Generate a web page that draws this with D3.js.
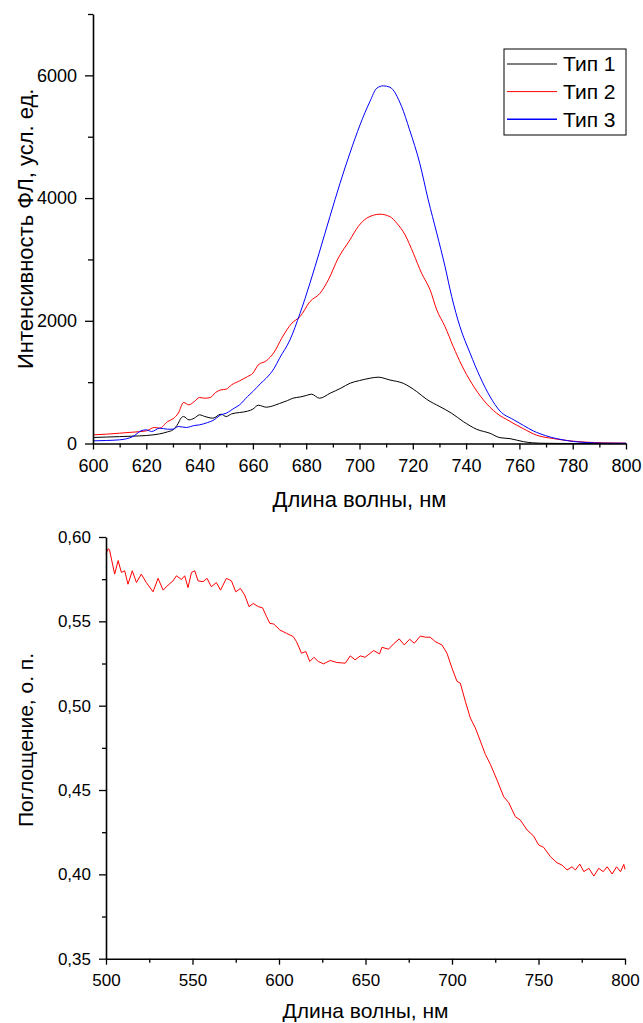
<!DOCTYPE html>
<html>
<head>
<meta charset="utf-8">
<script src="https://cdnjs.cloudflare.com/ajax/libs/d3/7.8.5/d3.min.js"></script>
<style>
  body { margin: 0; background: #fff; }
  svg { font-family: "Liberation Sans", Arial, sans-serif; }
</style>
</head>
<body>
<svg id="fig" width="643" height="1023"></svg>
<script>
// ---- data ----
const seriesNames = ["Тип 1", "Тип 2", "Тип 3"];
const seriesColors = ["#000000", "#ff0000", "#0000ff"];

// [wavelength nm, intensity]
const type1 = [[600,98],[605,105],[610,112],[615,120],[620,130],[625,157],[628,190],[630,223],[632,330],[633,413],[634,440],[636,385],[638,413],[640,467],[642,440],[645,413],[648,478],[650,440],[652,483],[655,505],[658,527],[660,560],[662,624],[665,592],[668,620],[670,652],[673,700],[675,738],[678,760],[680,782],[682,804],[685,738],[689,820],[693,901],[696.5,983],[700,1026],[704,1064],[707,1081],[711.4,1035],[716.4,981],[721.5,845],[725.2,720],[730.2,600],[734.6,492],[739,356],[744,231],[749,166],[752.7,95],[756.5,79],[761.5,30],[765,11],[770,3],[780,0],[800,0]];

const type2 = [[600,141],[605,152],[610,168],[615,185],[620,206],[623,261],[625,250],[628,358],[630,402],[632,494],[634,668],[636,630],[638,684],[640,749],[642,738],[644,749],[646,831],[648,874],[650,885],[652,956],[655,1021],[658,1091],[660,1146],[662,1281],[665,1347],[668,1490],[670.8,1715],[674.6,1960],[677.7,2068],[681.4,2312],[685.2,2449],[688.3,2666],[692,3020],[696.4,3318],[699.5,3535],[702.7,3672],[707.7,3737],[711.4,3698],[714,3590],[717.1,3400],[720.2,3101],[723.3,2775],[726.5,2503],[729,2177],[732.1,1904],[735.2,1578],[738.3,1280],[742.1,982],[746.5,709],[751.5,492],[756.5,360],[761.5,240],[766.5,135],[772.75,80],[779,43],[785,22],[791.5,11],[800,5]];

const type3 = [[600,43],[605,49],[610,60],[615,114],[618,206],[620,223],[622,195],[625,250],[628,233],[630,233],[632,277],[635,261],[638,293],[640,304],[643,342],[645,375],[648,467],[650,494],[653,576],[655,630],[658,766],[660,847],[663,983],[665,1064],[668,1227],[670,1390],[673.9,1688],[677.7,2123],[681.4,2612],[685.2,3155],[688.9,3698],[692.7,4242],[696.4,4732],[700.2,5193],[703.9,5573],[706.5,5791],[708.9,5829],[711.4,5807],[715.8,5492],[718.8,5112],[722.6,4569],[725.8,3970],[729,3427],[732.1,2883],[734.6,2394],[737.7,1904],[741.5,1471],[745.2,1089],[749,763],[752.7,530],[757.7,390],[761.5,295],[765.2,205],[767.7,160],[772,100],[776,62],[780.25,33],[785.25,16],[791.5,5],[800,5]];

// [wavelength nm, absorbance]
const absorb = [[500,0.590],[501.2,0.593],[502,0.5925],[505,0.578],[507,0.586],[508.9,0.579],[510.8,0.580],[512.7,0.572],[515.2,0.580],[517.6,0.573],[520.4,0.578],[523.3,0.573],[527.2,0.5675],[530.1,0.5755],[533,0.5685],[535.9,0.5715],[538.8,0.574],[540.7,0.577],[543.6,0.5748],[545.5,0.577],[547.4,0.570],[549.4,0.579],[551.3,0.580],[553.2,0.574],[556.1,0.5735],[558.4,0.5755],[560.9,0.5705],[563.8,0.573],[566.2,0.5685],[569.6,0.5755],[572.5,0.574],[575,0.5675],[577.7,0.5695],[580.2,0.5655],[582.7,0.5587],[585.1,0.5606],[588,0.5587],[590.5,0.558],[592.8,0.5528],[594.7,0.5488],[597,0.5484],[600.5,0.5449],[604.3,0.5429],[608.2,0.541],[610.1,0.538],[613,0.5311],[615.5,0.5321],[617.8,0.5262],[620.2,0.5287],[622.7,0.5262],[625.7,0.5248],[629.6,0.5268],[633.4,0.5256],[638.3,0.5252],[641.2,0.5295],[644,0.5272],[647,0.5295],[649.8,0.5287],[654.7,0.5327],[658.1,0.5307],[659.5,0.5346],[663.3,0.5335],[666.2,0.5366],[669.5,0.5396],[672.4,0.536],[675.5,0.5394],[678.2,0.537],[681.7,0.5413],[684.6,0.5406],[687.4,0.5406],[690.3,0.538],[694.2,0.536],[697.1,0.5311],[700,0.5222],[702.9,0.5144],[704.8,0.5134],[707.7,0.5026],[710.6,0.4927],[713.5,0.4868],[716.4,0.479],[719.3,0.4711],[722.2,0.4652],[726,0.456],[729.9,0.446],[732.8,0.4425],[736.6,0.4342],[739.5,0.4322],[743.4,0.4263],[747.2,0.4227],[750.1,0.4174],[753,0.416],[756.9,0.4105],[760.7,0.4069],[763.6,0.4055],[766.5,0.4026],[769.4,0.4045],[771.3,0.4026],[773.9,0.4061],[776.2,0.4016],[779.1,0.4036],[782,0.399],[784.8,0.4036],[787.4,0.4016],[789.7,0.4045],[792.6,0.4002],[795.1,0.4045],[797.4,0.4016],[799.3,0.4059],[800,0.403]];

// ticks
const flXMajor = d3.range(600, 801, 20);
const flXMinor = d3.range(610, 800, 20);
const flYMajor = [0, 2000, 4000, 6000];
const flYMinor = [1000, 3000, 5000, 7000];
const abXMajor = d3.range(500, 801, 50);
const abXMinor = d3.range(525, 800, 50);
const abYMajor = [0.35, 0.40, 0.45, 0.50, 0.55, 0.60];
const abYMinor = [0.375, 0.425, 0.475, 0.525, 0.575];

const svg = d3.select("#fig");

// helper to draw an axis with major + minor ticks
function drawAxis(g, axisFn, scale, major, minor, majSize, minSize, pad, fmt, fontSize) {
    g.append("g")
        .call(axisFn(scale).tickValues(minor).tickSize(minSize).tickFormat(""))
        .call(a => a.select(".domain").remove())
        .selectAll("line").attr("stroke", "#000").attr("stroke-width", 1.3);
    const ax = g.append("g")
        .call(axisFn(scale).tickValues(major).tickSize(majSize).tickSizeOuter(0)
              .tickPadding(pad).tickFormat(fmt));
    ax.select(".domain").attr("stroke", "#000").attr("stroke-width", 1.6);
    ax.selectAll("line").attr("stroke", "#000").attr("stroke-width", 1.3);
    ax.selectAll("text").attr("fill", "#000").style("font-size", fontSize + "px")
        .style("font-family", '"Liberation Sans", Arial, sans-serif');
}

// ===== top chart: fluorescence =====
const x1 = d3.scaleLinear().domain([600, 800]).range([93, 626]);
const y1 = d3.scaleLinear().domain([0, 7000]).range([443.5, 14]);

const topG = svg.append("g");
const line1 = d3.line().x(d => x1(d[0])).y(d => y1(d[1])).curve(d3.curveMonotoneX);

[type1, type2, type3].forEach((s, i) => {
    topG.append("path")
        .datum(s)
        .attr("d", line1)
        .attr("fill", "none")
        .attr("stroke", seriesColors[i])
        .attr("stroke-width", 1);
});

drawAxis(topG.append("g").attr("transform", `translate(0,${y1(0)})`),
    d3.axisBottom, x1, flXMajor, flXMinor, 6, 4, 10, d3.format("d"), 18);
drawAxis(topG.append("g").attr("transform", `translate(${x1(600)},0)`),
    d3.axisLeft, y1, flYMajor, flYMinor, 8, 5, 8, d3.format("d"), 18);

topG.append("text")
    .attr("x", (x1(600) + x1(800)) / 2)
    .attr("y", 507)
    .attr("text-anchor", "middle")
    .style("font-size", "22px")
    .text("Длина волны, нм");

topG.append("text")
    .attr("transform", `translate(33,${(y1(0) + y1(7000)) / 2}) rotate(-90)`)
    .attr("text-anchor", "middle")
    .style("font-size", "22px")
    .text("Интенсивность ФЛ, усл. ед.");

// legend
const legend = topG.append("g").attr("transform", "translate(504,49)");
legend.append("rect")
    .attr("width", 122).attr("height", 86)
    .attr("fill", "#fff").attr("stroke", "#000").attr("stroke-width", 1);
const items = legend.selectAll(".item")
    .data(seriesNames)
    .join("g")
    .attr("transform", (d, i) => `translate(0,${15 + i * 27.6})`);
items.append("line")
    .attr("x1", 3).attr("x2", 53)
    .attr("stroke", (d, i) => seriesColors[i])
    .attr("stroke-width", (d, i) => i === 2 ? 1.6 : 1);
items.append("text")
    .attr("x", 59).attr("dy", "0.35em")
    .style("font-size", "21px")
    .text(d => d);

// ===== bottom chart: absorbance =====
const x2 = d3.scaleLinear().domain([500, 800]).range([106, 625]);
const y2 = d3.scaleLinear().domain([0.35, 0.60]).range([958.7, 537]);

const botG = svg.append("g");
botG.append("path")
    .datum(absorb)
    .attr("d", d3.line().x(d => x2(d[0])).y(d => y2(d[1])))
    .attr("fill", "none")
    .attr("stroke", "#ff0000")
    .attr("stroke-width", 1);

const comma = v => d3.format(".2f")(v).replace(".", ",");
drawAxis(botG.append("g").attr("transform", `translate(0,${y2(0.35)})`),
    d3.axisBottom, x2, abXMajor, abXMinor, 6, 4, 9, d3.format("d"), 17);
drawAxis(botG.append("g").attr("transform", `translate(${x2(500)},0)`),
    d3.axisLeft, y2, abYMajor, abYMinor, 7, 4, 8, comma, 17);

botG.append("text")
    .attr("x", (x2(500) + x2(800)) / 2)
    .attr("y", 1018)
    .attr("text-anchor", "middle")
    .style("font-size", "21px")
    .text("Длина волны, нм");

botG.append("text")
    .attr("transform", "translate(33,740) rotate(-90)")
    .attr("text-anchor", "middle")
    .style("font-size", "21px")
    .text("Поглощение, о. п.");
</script>
</body>
</html>
